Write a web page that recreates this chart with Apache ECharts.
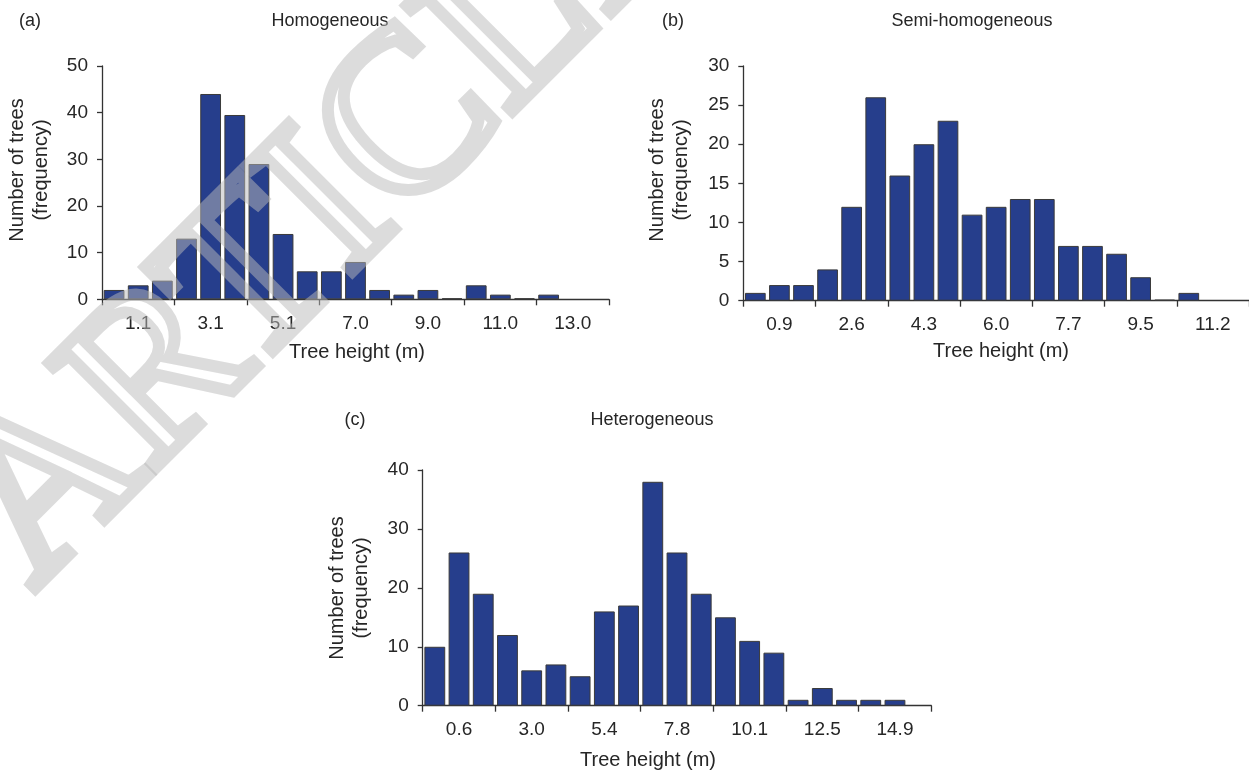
<!DOCTYPE html>
<html>
<head>
<meta charset="utf-8">
<script src="https://cdn.jsdelivr.net/npm/echarts@6/dist/echarts.min.js"></script>
<style>
html,body{margin:0;padding:0;background:#fff;}
#chart{width:1249px;height:773px;}
</style>
</head>
<body>
<div id="chart"></div>
<script>
// ---- data ----
const ticksA = ['1.1','3.1','5.1','7.0','9.0','11.0','13.0'];
const countsA = [2,3,4,13,44,39.5,29,14,6,6,8,2,1,2,0,3,1,0,1,null,null];

const ticksB = ['0.9','2.6','4.3','6.0','7.7','9.5','11.2'];
const countsB = [1,2,2,4,12,26,16,20,23,11,12,13,13,7,7,6,3,0,1,null,null];

const ticksC = ['0.6','3.0','5.4','7.8','10.1','12.5','14.9'];
const countsC = [10,26,19,12,6,7,5,16,17,38,26,19,15,11,9,1,3,1,1,1,null];

const titles = ['Homogeneous','Semi-homogeneous','Heterogeneous'];
const panelTags = ['(a)','(b)','(c)'];
const yName = 'Number of trees\n(frequency)';
const xName = 'Tree height (m)';
const yMax = [50, 30, 40];
const yStep = [10, 5, 10];

// ---- helpers ----
function cats(counts, ticks){
  return counts.map((_, i) => (i % 3 === 1) ? ticks[(i - 1) / 3] : '');
}
const FONT = '"Liberation Sans", Arial, Helvetica, sans-serif';
const TXT = '#262626';
const AX = '#333333';
const BAR = '#263E8C';

const grids = [
  {left: 102, top: 66, width: 507, height: 233.3},
  {left: 743.3, top: 66, width: 505.7, height: 234.7},
  {left: 422.7, top: 470, width: 508.6, height: 235.7}
];
const allCounts = [countsA, countsB, countsC];
const allTicks = [ticksA, ticksB, ticksC];

const xAxis = [], yAxis = [], series = [];
for (let k = 0; k < 3; k++) {
  xAxis.push({
    type: 'category', gridIndex: k,
    data: cats(allCounts[k], allTicks[k]),
    boundaryGap: true,
    axisLine: {show: true, lineStyle: {color: AX, width: 1.3}},
    axisTick: {show: true, length: 6, interval: function (i) { return i % 3 === 0; }, lineStyle: {color: AX, width: 1.3}},
    axisLabel: {interval: 0, margin: 15, color: TXT, fontSize: 19, fontFamily: FONT},
    splitLine: {show: false}
  });
  yAxis.push({
    type: 'value', gridIndex: k, min: 0, max: yMax[k], interval: yStep[k],
    axisLine: {show: true, lineStyle: {color: AX, width: 1.3}},
    axisTick: {show: true, length: 5, lineStyle: {color: AX, width: 1.3}},
    axisLabel: {margin: 14, color: TXT, fontSize: 19, fontFamily: FONT},
    splitLine: {show: false}
  });
  series.push({
    type: 'bar', xAxisIndex: k, yAxisIndex: k,
    data: allCounts[k],
    barCategoryGap: '14%',
    barMinHeight: 1,
    itemStyle: {color: BAR, borderColor: '#3a3a3a', borderWidth: 1},
    silent: true
  });
}

function txt(x, y, s, size, extra) {
  return Object.assign({
    type: 'text', x: x, y: y, z: 50,
    style: {text: s, fill: TXT, font: size + 'px ' + FONT, textAlign: 'center', textVerticalAlign: 'middle'}
  }, extra || {});
}
function ytxt(x, y) {
  return {
    type: 'text', x: x, y: y, rotation: Math.PI / 2, z: 50,
    style: {text: yName, fill: TXT, font: '20px ' + FONT, textAlign: 'center', textVerticalAlign: 'middle', lineHeight: 24}
  };
}

const graphic = [
  // watermark
  {
    type: 'text', x: 72, y: 628, rotation: Math.PI / 4, z: 100,
    style: {
      text: 'ARTICLE IN PRESS',
      font: '228px "Liberation Serif", "Times New Roman", serif',
      fill: 'rgba(0,0,0,0)',
      stroke: 'rgba(185,185,185,0.5)',
      lineWidth: 12,
      lineJoin: 'round',
      textAlign: 'left', textVerticalAlign: 'bottom'
    }
  },
  txt(30, 21, panelTags[0], 18),
  txt(330, 21, titles[0], 18),
  txt(673, 21, panelTags[1], 18),
  txt(972, 21, titles[1], 18),
  txt(355, 420, panelTags[2], 18),
  txt(652, 420, titles[2], 18),
  ytxt(29, 170),
  ytxt(669, 170),
  ytxt(349, 588),
  txt(357, 352, xName, 20),
  txt(1001, 351, xName, 20),
  txt(648, 760, xName, 20)
];

const chart = echarts.init(document.getElementById('chart'), null, {renderer: 'canvas'});
chart.setOption({
  backgroundColor: '#ffffff',
  animation: false,
  grid: grids.map(g => Object.assign({containLabel: false}, g)),
  xAxis: xAxis,
  yAxis: yAxis,
  series: series,
  graphic: graphic
});
</script>
</body>
</html>
